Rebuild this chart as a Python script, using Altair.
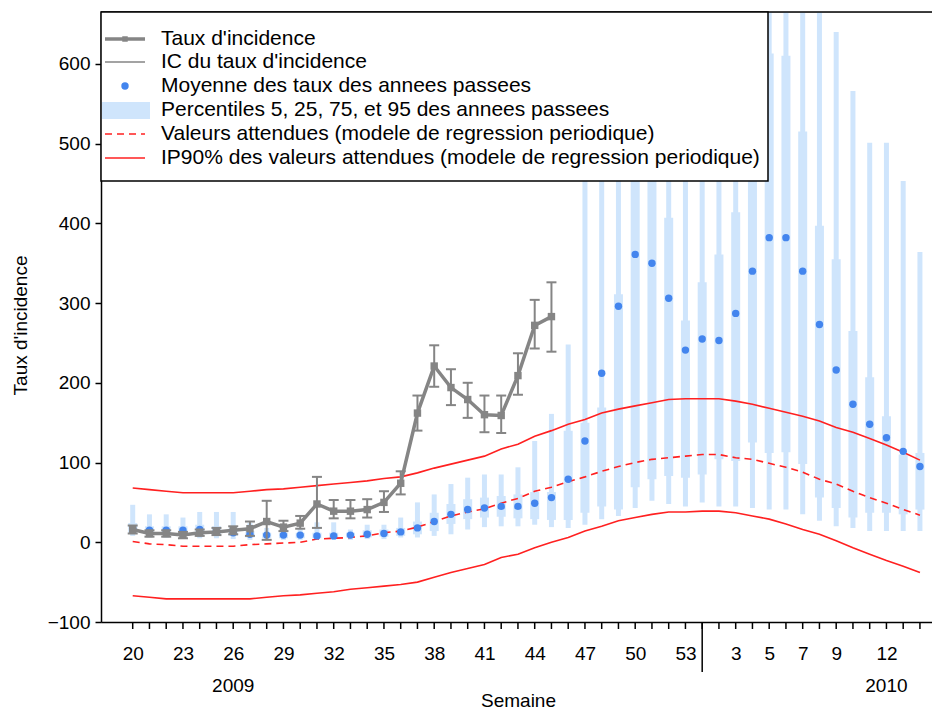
import altair as alt
import pandas as pd

# ---------------- data ----------------
week_labels = [str(w) for w in range(20, 54)] + [str(w) for w in range(1, 15)]
label_idx = [0, 3, 6, 9, 12, 15, 18, 21, 24, 27, 30, 33, 36, 38, 40, 42, 45]
year_names = ["2009", "2010"]
year_idx = [6, 45]
year_sep_idx = [34]

# Taux d'incidence (2009 weeks 20..45)
rate = [16, 11, 11, 9, 12, 13, 15, 17, 26, 19, 24, 48, 39, 39, 41, 50, 74, 162,
        221, 194, 179, 160, 159, 209, 272, 283]
rate_lo = [11, 7, 7, 5, 8, 9, 10, 8, 3, 14, 17, 18, 30, 30, 31, 38, 60, 140,
           195, 172, 156, 138, 137, 185, 243, 239]
rate_hi = [21, 15, 15, 13, 16, 18, 20, 26, 52, 27, 33, 82, 53, 53, 54, 64, 89, 184,
           247, 217, 200, 184, 184, 237, 304, 326]

# Historical mean and percentiles (48 weeks)
hist_mean = [17, 15, 15, 15, 16, 14, 12, 10, 9, 9, 9, 8, 8, 9, 10, 11, 13, 18, 26, 35,
             41, 43, 45, 45, 49, 56, 79, 127, 212, 296, 361, 350, 306, 241, 255, 253,
             287, 340, 382, 382, 340, 273, 216, 173, 148, 131, 114, 95]
p5 = [8, 6, 6, 5, 5, 5, 4, 3, 3, 3, 3, 3, 3, 3, 4, 4, 6, 6, 8, 10, 16, 19, 20, 20, 22,
      19, 18, 22, 29, 33, 43, 52, 48, 45, 50, 45, 45, 43, 41, 41, 35, 27, 20, 18, 14,
      14, 14, 14]
p25 = [12, 10, 10, 9, 10, 9, 8, 6, 5, 5, 5, 5, 5, 6, 6, 7, 8, 10, 14, 23, 29, 31, 32,
       30, 29, 28, 28, 37, 45, 41, 69, 79, 83, 81, 85, 104, 102, 125, 112, 113, 98, 56,
       43, 31, 37, 37, 35, 41]
p75 = [24, 20, 20, 20, 22, 20, 18, 14, 12, 12, 12, 12, 12, 12, 15, 16, 18, 26, 37, 48,
       54, 56, 58, 60, 63, 63, 140, 150, 169, 311, 500, 480, 407, 278, 326, 361, 414,
       480, 613, 610, 515, 397, 355, 265, 207, 158, 110, 112]
p95 = [47, 35, 35, 31, 38, 38, 38, 24, 18, 16, 18, 25, 25, 16, 22, 22, 31, 50, 60, 73,
       81, 85, 85, 94, 127, 161, 248, 480, 580, 650, 700, 700, 700, 650, 640, 660, 700,
       700, 700, 700, 700, 700, 640, 566, 501, 501, 453, 364]

# Periodic regression model
expected = [1, -2, -3, -5, -5, -5, -5, -3, -2, -1, 0, 4, 5, 6, 8, 12, 14, 19, 26, 33,
            38, 42, 49, 55, 64, 69, 76, 82, 89, 95, 100, 104, 106, 108, 110, 110, 106,
            104, 99, 94, 88, 79, 73, 64, 56, 49, 41, 34]
ip_hi = [68, 66, 64, 62, 62, 62, 62, 64, 66, 67, 69, 71, 73, 75, 77, 80, 82, 87, 93,
         98, 103, 108, 117, 123, 133, 140, 148, 154, 162, 167, 171, 175, 179, 180, 180,
         180, 177, 173, 168, 163, 158, 152, 144, 138, 130, 122, 113, 103]
ip_lo = [-67, -69, -71, -71, -71, -71, -71, -71, -69, -67, -66, -64, -62, -59, -57,
         -55, -53, -50, -44, -38, -33, -28, -19, -15, -7, 0, 6, 14, 20, 27, 31, 35, 38,
         38, 39, 39, 37, 33, 29, 23, 16, 10, 2, -7, -15, -23, -30, -38]

legend_labels = [
    "Taux d'incidence",
    "IC du taux d'incidence",
    "Moyenne des taux des annees passees",
    "Percentiles 5, 25, 75, et 95 des annees passees",
    "Valeurs attendues (modele de regression periodique)",
    "IP90% des valeurs attendues (modele de regression periodique)",
]

# ---------------- tables ----------------
n = len(week_labels)
hist = pd.DataFrame({"idx": list(range(n)), "mean": hist_mean, "p5": p5, "p25": p25,
                     "p75": p75, "p95": p95})
model = pd.DataFrame({"idx": list(range(n)), "exp": expected, "lo": ip_lo, "hi": ip_hi})
inc = pd.DataFrame({"idx": list(range(len(rate))), "rate": rate, "lo": rate_lo,
                    "hi": rate_hi})
weeks = pd.DataFrame({"idx": list(range(n)), "label": week_labels})
years = pd.DataFrame({"idx": year_idx, "year": year_names})
sep = pd.DataFrame({"idx": year_sep_idx})
one = pd.DataFrame({"k": [0]})

# ---------------- style ----------------
W, H = 831, 610
FONT = "Liberation Sans"
GRAY = "#858585"
BLUE = "#4385ee"
LBLUE = "#cfe5fc"
RED = "#ff2020"

label_js = "[" + ",".join("'%s'" % s for s in week_labels) + "]"

xscale = alt.Scale(domain=[-1.893, 47.72], nice=False, zero=False)
yscale = alt.Scale(domain=[-100, 665], nice=False, zero=False)

x_axis = alt.Axis(values=label_idx, labelExpr=label_js + "[datum.value]", ticks=False,
                  labelPadding=22, labelFontSize=19, labelColor="black",
                  domainColor="black", domainWidth=1.5, grid=False,
                  title="Semaine", titleFontSize=19, titleFontWeight="normal",
                  titleColor="black", titleX=417, titleY=78, titleBaseline="middle",
                  labelFlush=False, labelOverlap=False)
y_axis = alt.Axis(values=list(range(-100, 700, 100)), tickSize=6, tickWidth=1.5,
                  tickColor="black", labelPadding=5, labelFontSize=19,
                  labelColor="black", domainColor="black", domainWidth=1.5,
                  grid=False, title="Taux d'incidence", titleFontSize=19,
                  titleFontWeight="normal", titleColor="black", titleX=-81,
                  titleY=313, titleBaseline="middle", labelFlush=False)

X = alt.X("idx:Q", scale=xscale, axis=x_axis)


def Y(field):
    return alt.Y(field, type="quantitative", scale=yscale, axis=y_axis)


# percentile bars
thin = alt.Chart(hist).mark_rule(strokeWidth=5, color=LBLUE, clip=True).encode(
    x=X, y=Y("p5"), y2="p95:Q")
thick = alt.Chart(hist).mark_rule(strokeWidth=9, color=LBLUE, clip=True).encode(
    x=X, y=Y("p25"), y2="p75:Q")

# model lines
exp_line = alt.Chart(model).mark_line(color=RED, strokeWidth=1.6,
                                      strokeDash=[7, 5]).encode(x=X, y=Y("exp"))
hi_line = alt.Chart(model).mark_line(color=RED, strokeWidth=1.6).encode(x=X, y=Y("hi"))
lo_line = alt.Chart(model).mark_line(color=RED, strokeWidth=1.6).encode(x=X, y=Y("lo"))

# historical mean
dots = alt.Chart(hist).mark_circle(size=55, color=BLUE, opacity=1).encode(
    x=X, y=Y("mean"))

# incidence + CI
err = alt.Chart(inc).mark_rule(color=GRAY, strokeWidth=2).encode(
    x=X, y=Y("lo"), y2="hi:Q")
cap_hi = alt.Chart(inc).mark_rule(color=GRAY, strokeWidth=2, xOffset=-5,
                                  x2Offset=5).encode(x=X, x2="idx:Q", y=Y("hi"))
cap_lo = alt.Chart(inc).mark_rule(color=GRAY, strokeWidth=2, xOffset=-5,
                                  x2Offset=5).encode(x=X, x2="idx:Q", y=Y("lo"))
inc_line = alt.Chart(inc).mark_line(color=GRAY, strokeWidth=3.5).encode(
    x=X, y=Y("rate"))
inc_pts = alt.Chart(inc).mark_square(size=55, color=GRAY, opacity=1).encode(
    x=X, y=Y("rate"))

# axis decorations
wk_ticks = alt.Chart(weeks).mark_rule(color="black", strokeWidth=1.5).encode(
    x=X, y=alt.value(H), y2=alt.value(H + 7))
sep_rule = alt.Chart(sep).mark_rule(color="black", strokeWidth=1.5).encode(
    x=X, y=alt.value(H), y2=alt.value(H + 50))
year_txt = alt.Chart(years).mark_text(fontSize=19, font=FONT, color="black",
                                      baseline="middle").encode(
    x=X, y=alt.value(H + 64), text="year:N")
top_border = alt.Chart(one).mark_rule(color="black", strokeWidth=1.5).encode(
    x=alt.value(0), x2=alt.value(W), y=alt.value(0))

# legend
LX0, LX1, LY1 = 0, 667, 169
rows = [27, 50, 74, 98, 122, 146]
leg_box = alt.Chart(one).mark_rect(fill="white", stroke="black", strokeWidth=1.5).encode(
    x=alt.value(LX0), x2=alt.value(LX1), y=alt.value(0), y2=alt.value(LY1))
leg = [leg_box]
leg.append(alt.Chart(one).mark_rule(color=GRAY, strokeWidth=3.5).encode(
    x=alt.value(4), x2=alt.value(44), y=alt.value(rows[0])))
leg.append(alt.Chart(one).mark_square(color=GRAY, size=30, opacity=1).encode(
    x=alt.value(24), y=alt.value(rows[0])))
leg.append(alt.Chart(one).mark_rule(color=GRAY, strokeWidth=1.5).encode(
    x=alt.value(4), x2=alt.value(44), y=alt.value(rows[1])))
leg.append(alt.Chart(one).mark_circle(color=BLUE, size=55, opacity=1).encode(
    x=alt.value(24), y=alt.value(rows[2])))
leg.append(alt.Chart(one).mark_rect(color=LBLUE).encode(
    x=alt.value(1), x2=alt.value(49), y=alt.value(rows[3] - 8),
    y2=alt.value(rows[3] + 9)))
leg.append(alt.Chart(one).mark_rule(color=RED, strokeWidth=1.6, strokeDash=[7, 5]).encode(
    x=alt.value(4), x2=alt.value(44), y=alt.value(rows[4])))
leg.append(alt.Chart(one).mark_rule(color=RED, strokeWidth=1.6).encode(
    x=alt.value(4), x2=alt.value(44), y=alt.value(rows[5])))
for lab, ry in zip(legend_labels, rows):
    leg.append(alt.Chart(one).mark_text(text=lab, fontSize=21, font=FONT,
                                        color="black", align="left",
                                        baseline="middle").encode(
        x=alt.value(60), y=alt.value(ry)))

chart = alt.layer(
    thin, thick, hi_line, lo_line, exp_line, dots, err, cap_hi, cap_lo, inc_line,
    inc_pts, wk_ticks, sep_rule, year_txt, top_border, *leg
).properties(
    width=W, height=H,
    autosize=alt.AutoSizeParams(type="none"),
    padding={"left": 93, "top": 4, "right": 0, "bottom": 90},
).configure_view(stroke=None).configure(font=FONT, background="white")

chart.save("out.html", embed_options={"renderer": "svg", "actions": False})
